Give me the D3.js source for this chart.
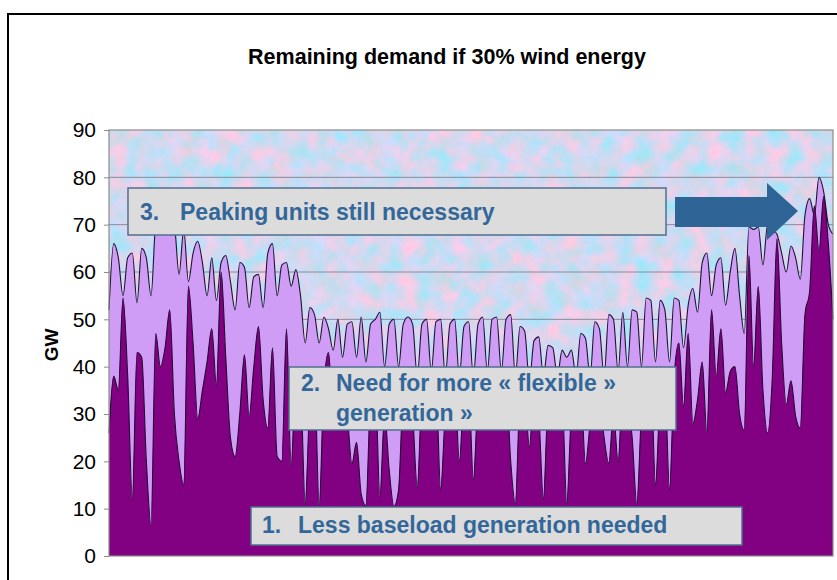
<!DOCTYPE html>
<html>
<head>
<meta charset="utf-8">
<script src="https://cdn.jsdelivr.net/npm/d3@7/dist/d3.min.js"></script>
<style>
  html, body { margin: 0; padding: 0; background: #ffffff; }
  svg { display: block; }
  text { font-family: "Liberation Sans", Arial, sans-serif; }
</style>
</head>
<body>
<svg id="chart" width="837" height="580"></svg>
<script>
// Daily-ish samples across the year (three per week), in GW
const demandGW = [
  52, 66, 63, 55, 63, 64, 53.5, 65, 63, 55,
  70, 72, 69, 72, 70, 59.5, 69, 58, 64, 66.5,
  62, 55, 63, 54, 62, 63.5, 58, 52, 62, 61,
  52.5, 59, 59.5, 52.5, 64, 66, 55, 61.5, 62, 57,
  60.5, 55, 45, 52.5, 51, 45, 50.5, 48, 43.5, 50,
  42, 49, 49.5, 42, 50.5, 41, 49, 50, 51.5, 40,
  49, 50, 40, 49, 50.5, 49, 38, 49, 50, 39,
  49.5, 50, 38, 49, 50, 38, 48.5, 49.5, 38, 49,
  50.5, 39, 50, 50.5, 39, 50, 51, 38, 48.5, 47.5,
  37, 45.5, 46.3, 38, 44.5, 44, 38, 43.5, 42, 43.5,
  38, 47, 46, 38, 49.5, 48, 38, 51, 50, 39,
  51.5, 40, 52, 51.5, 40, 54.5, 54, 41, 54, 52,
  41, 54.5, 54, 44, 53, 56.5, 51.5, 62, 64, 55,
  61.5, 63, 53, 60, 65, 55, 47, 69.5, 69, 69.5,
  61.5, 70, 69, 68, 64, 60, 65.5, 63, 58.5, 72,
  75.5, 72, 80, 77, 70, 68
];

// Demand left once the wind output is subtracted, in GW
const residualGW = [
  26, 38, 35, 54.5, 38, 12, 43, 42, 20, 6.5,
  47, 40, 44, 52, 30, 20, 15, 57, 45, 29,
  35, 41, 48, 36, 60, 42, 25, 21, 30, 42.5,
  29.5, 40, 48.5, 33, 27, 44, 21, 20, 48, 19,
  38, 36, 11, 32, 37, 10.5, 36, 43, 30, 34,
  35, 30, 19.5, 24, 13, 10.6, 33, 36, 12.5, 30,
  18, 10.5, 14, 34, 36, 30, 14.5, 34, 37, 33,
  36, 14, 30, 35, 37, 20, 34, 36, 16, 33,
  37, 34, 36, 35, 30, 37, 20, 11, 33, 34,
  23, 35, 30, 12, 32, 34, 30, 33, 11, 30,
  34, 35, 19.5, 28, 36, 34, 25, 19.6, 30, 20,
  35, 33, 25, 11, 30, 36, 38, 15, 33, 36,
  14, 38, 45, 31.5, 47, 28, 33, 41, 26, 52,
  38, 48, 34.5, 39, 40, 30, 26.6, 63.5, 40, 57,
  35, 26, 37.6, 67, 45, 32, 37, 29.5, 27, 51,
  56, 74, 64.5, 76, 66, 50
];

const yTicks = [0, 10, 20, 30, 40, 50, 60, 70, 80, 90];

const chartTitle = "Remaining demand if 30% wind energy";
const yAxisTitle = "GW";

// Callout boxes: number, then one or two lines of text
const callouts = [
  { num: "3.", lines: ["Peaking units still necessary"] },
  { num: "2.", lines: ["Need for more \u00ab flexible \u00bb", "generation \u00bb"] },
  { num: "1.", lines: ["Less baseload generation needed"] }
];

const svg = d3.select("#chart");
const W = 837, H = 580;
const plot = { left: 109, right: 833, top: 130, bottom: 556 };

// Outer frame
svg.append("rect")
  .attr("x", 8).attr("y", 14)
  .attr("width", W + 10).attr("height", H + 10)
  .attr("fill", "#ffffff")
  .attr("stroke", "#000000").attr("stroke-width", 2);

// Mottled pastel plot background
const defs = svg.append("defs");
const tex = defs.append("filter")
  .attr("id", "texture")
  .attr("x", 0).attr("y", 0).attr("width", 1).attr("height", 1)
  .attr("filterUnits", "objectBoundingBox")
  .attr("color-interpolation-filters", "sRGB");
tex.append("feTurbulence")
  .attr("type", "fractalNoise")
  .attr("baseFrequency", "0.055")
  .attr("numOctaves", 5)
  .attr("seed", 7)
  .attr("result", "noise");
tex.append("feColorMatrix")
  .attr("in", "noise")
  .attr("type", "matrix")
  .attr("values",
    "0.40 -0.36 0 0 0.80 " +
    "-0.10 0.12 0 0 0.84 " +
    "0.00 0.16 0 0 0.86 " +
    "0 0 0 0 1");

svg.append("rect")
  .attr("x", plot.left).attr("y", plot.top)
  .attr("width", plot.right - plot.left)
  .attr("height", plot.bottom - plot.top)
  .attr("fill", "#c8dcf2")
  .attr("filter", "url(#texture)");

const x = d3.scaleLinear()
  .domain([0, demandGW.length - 1])
  .range([plot.left, plot.right]);
const y = d3.scaleLinear()
  .domain([0, 90])
  .range([plot.bottom, plot.top]);

// Horizontal gridlines
svg.append("g")
  .selectAll("line")
  .data(yTicks.filter(t => t > 0 && t < 90))
  .join("line")
  .attr("x1", plot.left).attr("x2", plot.right)
  .attr("y1", d => y(d)).attr("y2", d => y(d))
  .attr("stroke", "#8a8a9a").attr("stroke-width", 1);

const curve = d3.curveMonotoneX;
const areaOf = d3.area()
  .x((d, i) => x(i))
  .y0(y(0))
  .y1(d => y(d))
  .curve(curve);
const lineOf = d3.line()
  .x((d, i) => x(i))
  .y(d => y(d))
  .curve(curve);

// Total demand
svg.append("path").datum(demandGW)
  .attr("d", areaOf).attr("fill", "#cf9cf6");
svg.append("path").datum(demandGW)
  .attr("d", lineOf).attr("fill", "none")
  .attr("stroke", "#1e1430").attr("stroke-width", 1.1);

// Remaining demand after wind
svg.append("path").datum(residualGW)
  .attr("d", areaOf).attr("fill", "#820082");
svg.append("path").datum(residualGW)
  .attr("d", lineOf).attr("fill", "none")
  .attr("stroke", "#200a30").attr("stroke-width", 1.1);

// Plot frame
svg.append("rect")
  .attr("x", plot.left).attr("y", plot.top)
  .attr("width", plot.right - plot.left)
  .attr("height", plot.bottom - plot.top)
  .attr("fill", "none")
  .attr("stroke", "#8c8c8c").attr("stroke-width", 1.2);

// Y axis
const yAxis = svg.append("g")
  .attr("transform", `translate(${plot.left},0)`)
  .call(d3.axisLeft(y).tickValues(yTicks).tickSize(5).tickPadding(8));
yAxis.select(".domain").remove();
yAxis.selectAll(".tick line").attr("stroke", "#8c8c8c");
yAxis.selectAll(".tick text")
  .attr("font-size", 21)
  .attr("font-family", "Liberation Sans, Arial, sans-serif")
  .attr("fill", "#000000");

svg.append("text")
  .attr("transform", `translate(58,${(plot.top + plot.bottom) / 2 + 2}) rotate(-90)`)
  .attr("text-anchor", "middle")
  .attr("font-size", 19)
  .attr("font-weight", "bold")
  .text(yAxisTitle);

// Title
svg.append("text")
  .attr("x", 447).attr("y", 64)
  .attr("text-anchor", "middle")
  .attr("font-size", 21.5)
  .attr("font-weight", "bold")
  .attr("fill", "#000000")
  .text(chartTitle);

// Callouts
const boxStyle = { fill: "#dcdcdc", stroke: "#4f6f8f", text: "#33679a" };
const boxGeom = [
  { x: 128, y: 188, w: 538, h: 47, numX: 140, textX: 180, base: [220] },
  { x: 289, y: 367, w: 387, h: 63, numX: 301, textX: 336, base: [391, 421] },
  { x: 251, y: 507, w: 491, h: 38, numX: 262, textX: 298, base: [533] }
];
callouts.forEach((c, k) => {
  const g = boxGeom[k];
  const grp = svg.append("g");
  grp.append("rect")
    .attr("x", g.x).attr("y", g.y).attr("width", g.w).attr("height", g.h)
    .attr("fill", boxStyle.fill)
    .attr("stroke", boxStyle.stroke).attr("stroke-width", 1.5);
  grp.append("text")
    .attr("x", g.numX).attr("y", g.base[0])
    .attr("font-size", 23).attr("font-weight", "bold")
    .attr("fill", boxStyle.text)
    .text(c.num);
  c.lines.forEach((ln, j) => {
    grp.append("text")
      .attr("x", g.textX).attr("y", g.base[j])
      .attr("font-size", 23).attr("font-weight", "bold")
      .attr("fill", boxStyle.text)
      .text(ln);
  });
});

// Block arrow pointing at the winter peak
const arrowPts = [
  [675, 197], [767, 197], [767, 183], [798, 211],
  [767, 240], [767, 227], [675, 227]
];
svg.append("path")
  .attr("d", d3.line()(arrowPts) + "Z")
  .attr("fill", "#2f6496");
</script>
</body>
</html>
